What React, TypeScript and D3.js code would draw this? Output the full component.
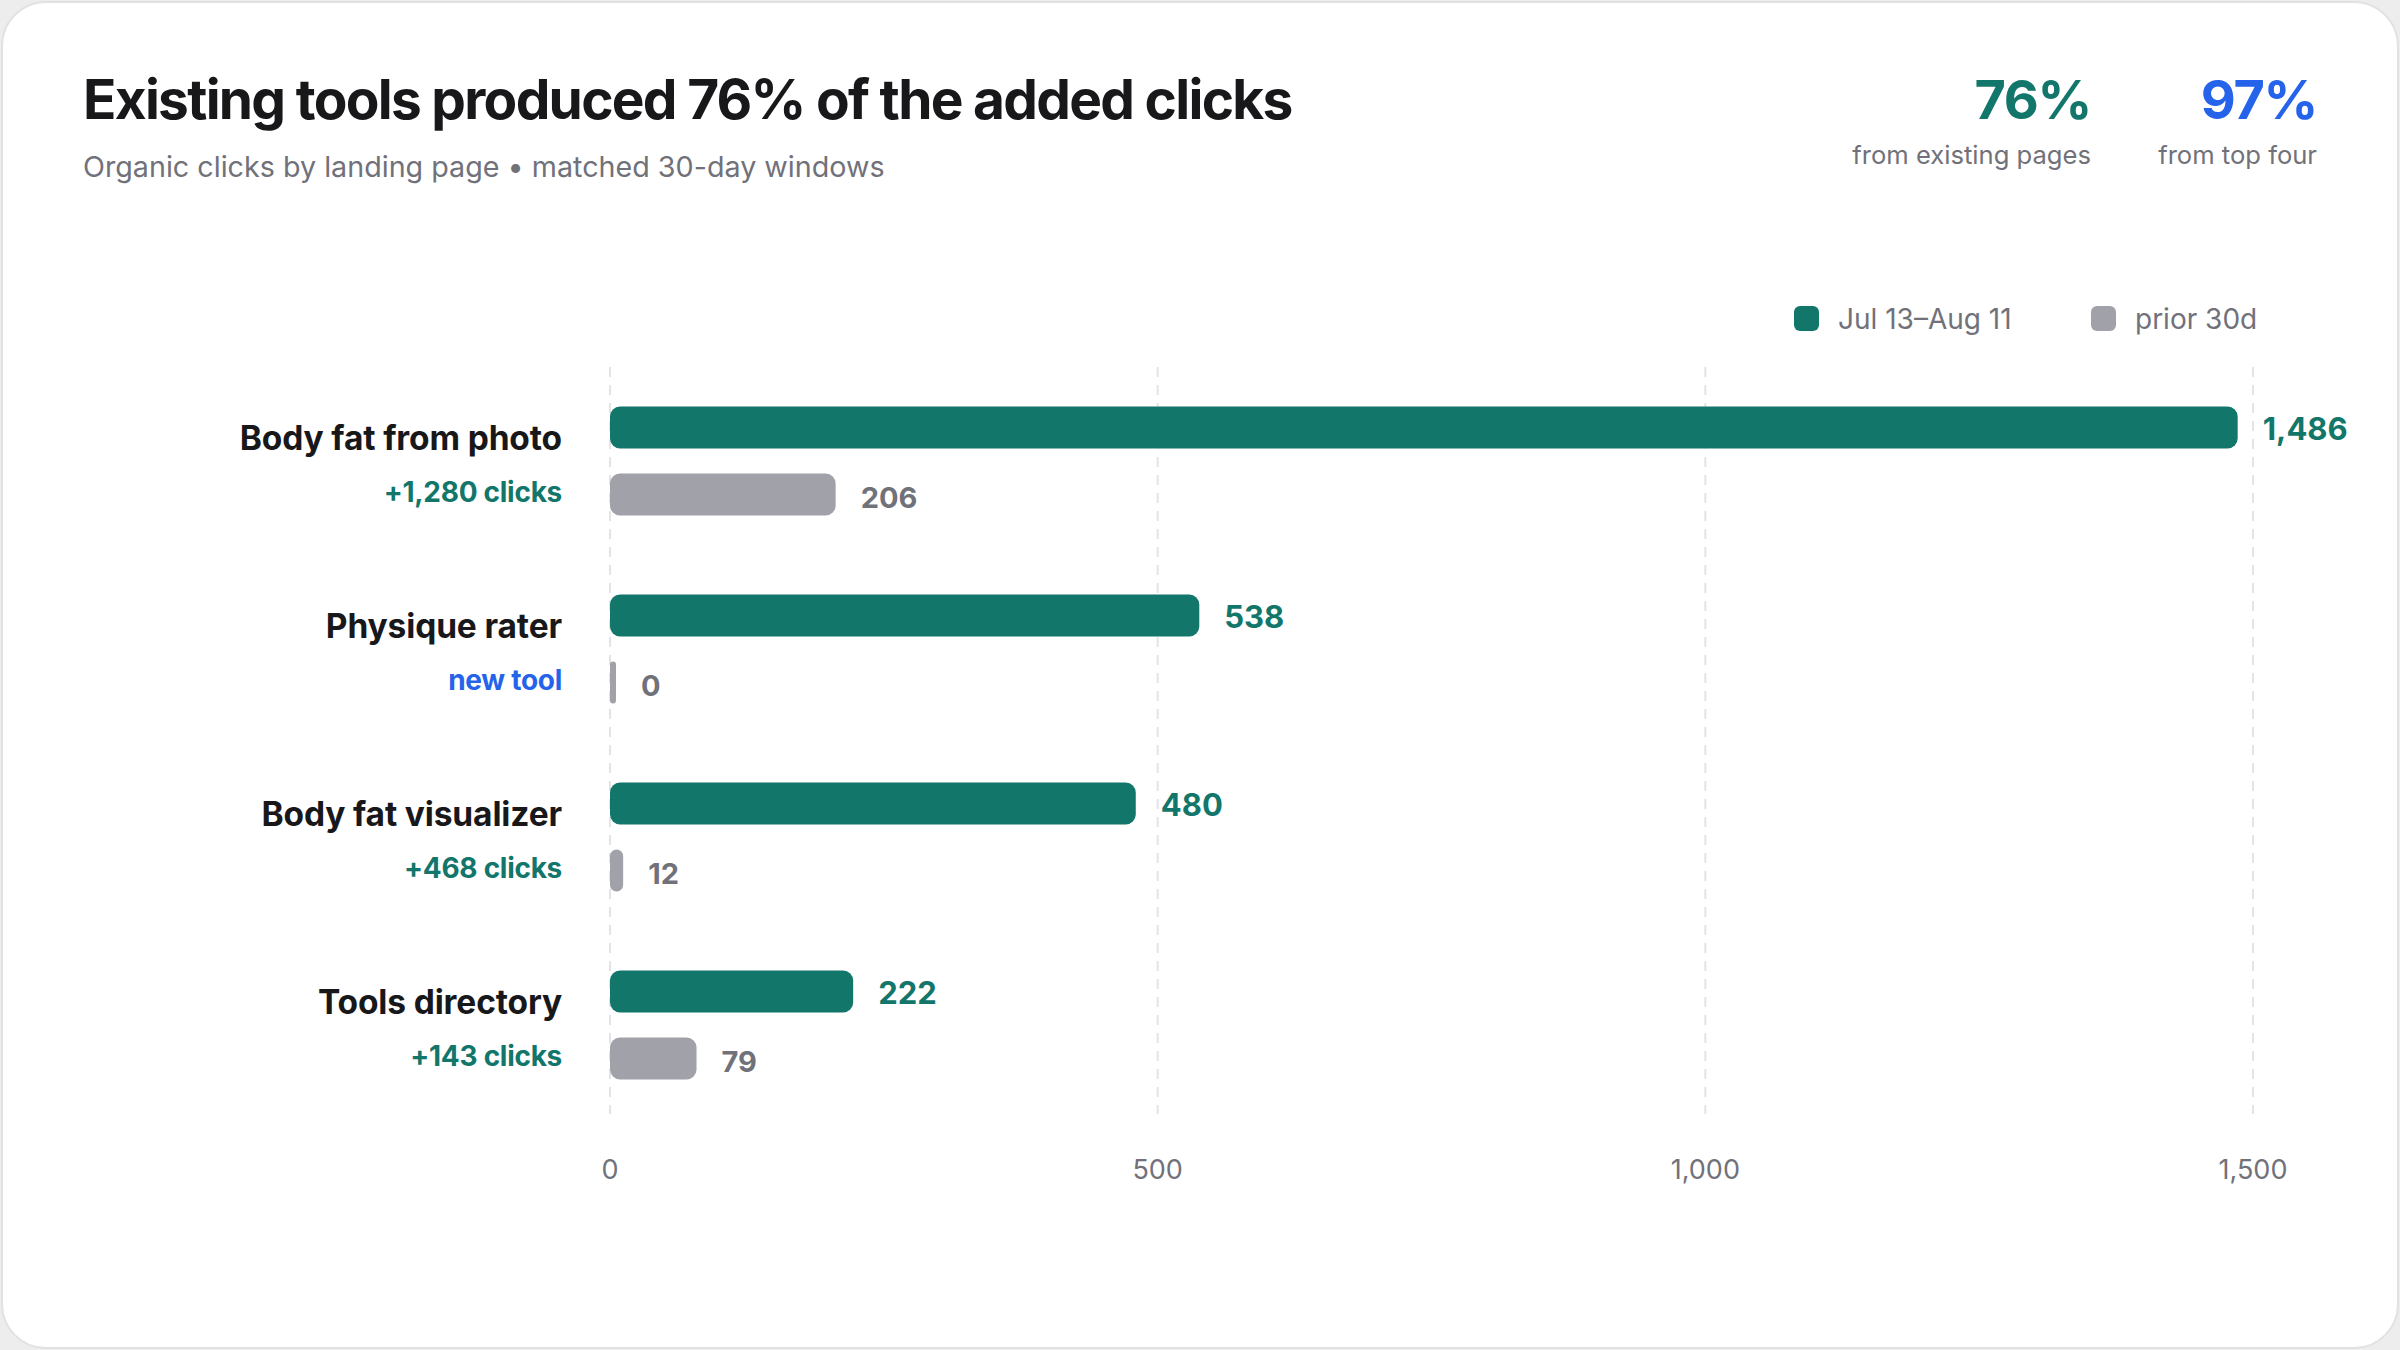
import React from "react";
import * as d3 from "d3";

const categories = ["Body fat from photo", "Physique rater", "Body fat visualizer", "Tools directory"];
const currentClicks = [1486, 538, 480, 222];
const priorClicks = [206, 0, 12, 79];
const notes = ["+1,280 clicks", "new tool", "+468 clicks", "+143 clicks"];
const noteKinds = ["delta", "new", "delta", "delta"];
const xTicks = [0, 500, 1000, 1500];
const seriesNames = ["Jul 13–Aug 11", "prior 30d"];
const kpiValues = ["76%", "97%"];
const kpiLabels = ["from existing pages", "from top four"];

const W = 2400;
const H = 1350;
const TEAL = "#12766b";
const GRAY = "#a1a1aa";
const BLUE = "#2563eb";
const INK = "#18181b";
const MUTED = "#71717a";
const FONT = "Inter, 'Noto Sans', sans-serif";

export default function App() {
  const x = d3.scaleLinear().domain([0, 1500]).range([610, 2253]);
  const y = d3.scaleBand<string>().domain(categories).range([367, 1119]);
  const fmt = d3.format(",");
  const barH = 42;
  const minW = 6;

  const kpiColors = [TEAL, BLUE];
  const kpiX = [2091, 2317];

  return (
    <svg
      width={W}
      height={H}
      viewBox={`0 0 ${W} ${H}`}
      style={{ position: "fixed", left: 0, top: 0, display: "block" }}
      fontFamily={FONT}
    >
      <rect x={0} y={0} width={W} height={H} fill="#ededed" />
      <rect x={2} y={2} width={W - 4} height={H - 4} rx={44} fill="#ffffff" stroke="#e2e2e4" strokeWidth={2} />

      <text x={83} y={119} fontSize={55} fontWeight={700} fill={INK} letterSpacing="-0.031em">
        Existing tools produced 76% of the added clicks
      </text>
      <text x={83} y={177} fontSize={28.7} fill={MUTED}>
        Organic clicks by landing page • matched 30-day windows
      </text>

      {kpiValues.map((v, i) => (
        <g key={v}>
          <text x={kpiX[i]} y={119} textAnchor="end" fontSize={54} fontWeight={700} fill={kpiColors[i]} letterSpacing="-0.025em">
            {v}
          </text>
          <text x={kpiX[i]} y={164} textAnchor="end" fontSize={25.6} fill={MUTED}>
            {kpiLabels[i]}
          </text>
        </g>
      ))}

      {/* legend */}
      {seriesNames.map((s, i) => {
        const lx = [1794, 2091][i];
        return (
          <g key={s}>
            <rect x={lx} y={306} width={25} height={25} rx={6} fill={i === 0 ? TEAL : GRAY} />
            <text x={lx + 44} y={329} fontSize={28} fill={MUTED}>
              {s}
            </text>
          </g>
        );
      })}

      {/* grid */}
      {xTicks.map((t) => (
        <g key={t}>
          <line x1={x(t)} x2={x(t)} y1={367} y2={1114} stroke="#e4e4e7" strokeWidth={2} strokeDasharray="10 8" />
          <text x={x(t)} y={1179} textAnchor="middle" fontSize={27} fill={MUTED}>
            {fmt(t)}
          </text>
        </g>
      ))}

      {categories.map((c, i) => {
        const cy = (y(c) as number) + y.bandwidth() / 2;
        const curY = cy - 54.5;
        const priY = cy + 12.5;
        const curW = Math.max(minW, x(currentClicks[i]) - x(0));
        const priW = Math.max(minW, x(priorClicks[i]) - x(0));
        return (
          <g key={c}>
            <text x={562} y={cy - 11.5} textAnchor="end" fontSize={33.5} fontWeight={700} fill={INK} letterSpacing="-0.004em">
              {c}
            </text>
            <text x={562} y={cy + 40.5} textAnchor="end" fontSize={28} fontWeight={700} fill={noteKinds[i] === "new" ? BLUE : TEAL} letterSpacing="-0.01em">
              {notes[i]}
            </text>
            <rect x={x(0)} y={curY} width={curW} height={barH} rx={Math.min(10, curW / 2)} fill={TEAL} />
            <rect x={x(0)} y={priY} width={priW} height={barH} rx={Math.min(10, priW / 2)} fill={GRAY} />
            <text x={x(0) + curW + 25} y={curY + barH / 2 + 1.5} dy="0.36em" fontSize={31} fontWeight={700} fill={TEAL}>
              {fmt(currentClicks[i])}
            </text>
            <text x={x(0) + priW + 25} y={priY + barH / 2 + 3} dy="0.36em" fontSize={29} fontWeight={700} fill={MUTED}>
              {fmt(priorClicks[i])}
            </text>
          </g>
        );
      })}
    </svg>
  );
}
